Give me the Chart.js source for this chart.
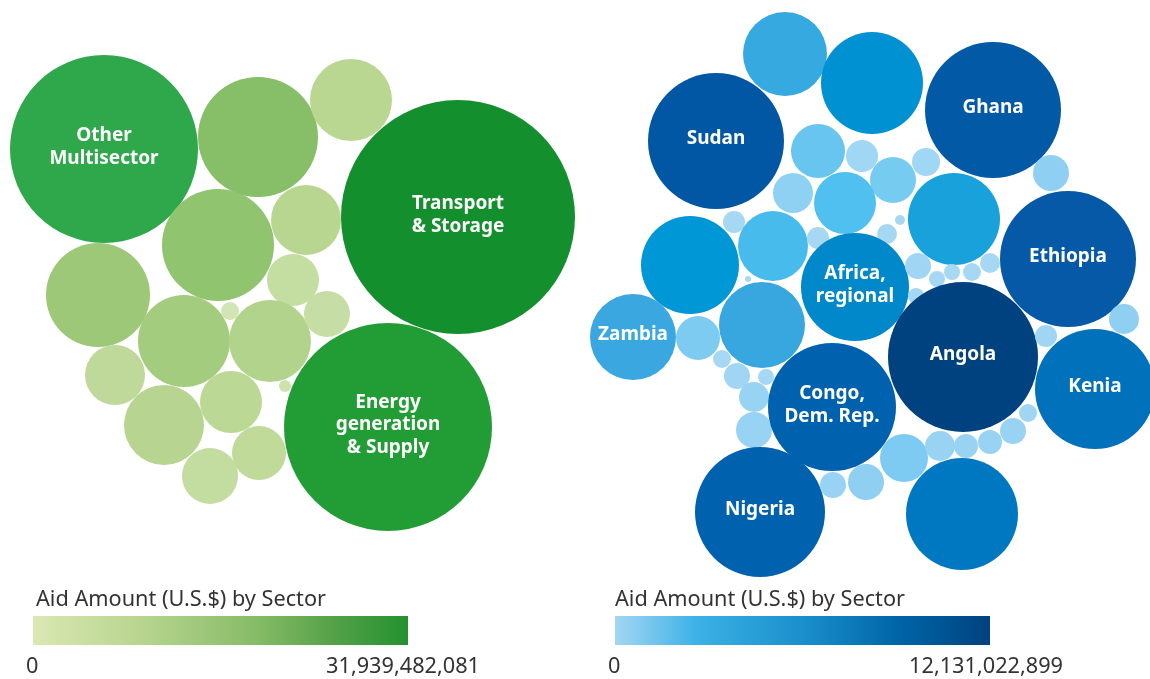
<!DOCTYPE html>
<html>
<head>
<meta charset="utf-8">
<script src="https://cdn.jsdelivr.net/npm/chart.js@4.4.0/dist/chart.umd.min.js"></script>
<style>
  body { margin: 0; background: #fff; font-family: "Noto Sans", sans-serif; }
  #wrap { position: relative; width: 1150px; height: 679px; }
  #chart { position: absolute; left: 0; top: 0; }
  .legend-title { position: absolute; top: 583px; font-size: 21.7px; color: #333; }
  .bar { position: absolute; top: 616px; width: 375px; height: 29px; }
  .tick { position: absolute; top: 650px; font-size: 21.7px; color: #333; }
</style>
</head>
<body>
<div id="wrap">
  <canvas id="chart" width="1150" height="679"></canvas>
  <div class="legend-title" style="left:36px">Aid Amount (U.S.$) by Sector</div>
  <div class="bar" style="left:33px;background:linear-gradient(to right,#dbe8b2,#b6d48e 30%,#86bb66 60%,#55a148 80%,#23912f)"></div>
  <div class="tick" style="left:26px">0</div>
  <div class="tick" style="left:300px;width:180px;text-align:right">31,939,482,081</div>

  <div class="legend-title" style="left:615px">Aid Amount (U.S.$) by Sector</div>
  <div class="bar" style="left:615px;background:linear-gradient(to right,#a5d6f3,#3bb1e6 22%,#1a8fcb 50%,#0066a8 75%,#00427e)"></div>
  <div class="tick" style="left:608px">0</div>
  <div class="tick" style="left:883px;width:180px;text-align:right">12,131,022,899</div>
</div>
<script>
// sectors (left panel) - layout position and bubble radius
const sectorNames = ['Other\nMultisector', '', '', 'Transport\n& Storage', '', '', '', '', '', '', '', '', 'Energy\ngeneration\n& Supply', '', '', '', '', '', ''];
const sectorX = [104, 258, 351, 458, 218, 306, 98, 293, 230, 184, 270, 327, 388, 115, 164, 231, 285, 259, 210];
const sectorY = [149, 137, 100, 217, 245, 220, 295, 280, 311, 341, 341, 314, 427, 375, 425, 402, 386, 453, 476];
const sectorR = [94, 60, 41, 117, 56, 35, 52, 26, 9, 46, 41, 23, 104, 30, 40, 31, 6, 27, 28];
const sectorColors = ['#2ea84b', '#86bf67', '#b9d791', '#148f2e', '#90c46e', '#b9d691', '#9cc878', '#c4dda1', '#d3e5b4',
  '#a4cc7f', '#b2d38c', '#c6dea5', '#229d36', '#bfd99a', '#b7d591', '#bcd895', '#cde2ad', '#bfda99', '#c3dc9f'];

// countries (right panel)
const countryNames = ['', '', 'Ghana', 'Sudan', '', '', '', '', '', '', '', '', '', '', '', '', '', '', 'Africa,\nregional',
  'Ethiopia', '', '', '', '', '', '', '', 'Zambia', '', '', '', '', '', '', '', 'Angola', 'Kenia', '', '',
  'Congo,\nDem. Rep.', 'Nigeria', '', '', '', '', '', '', '', '', ''];
const countryX = [785, 872, 993, 716, 818, 862, 926, 893, 793, 845, 954, 1051, 734, 773, 690, 818, 887, 900, 855,
  1068, 918, 937, 952, 972, 990, 916, 748, 633, 698, 762, 722, 737, 754, 766, 754, 963, 1095, 1124, 1046,
  832, 760, 962, 904, 940, 966, 990, 1013, 1028, 833, 866];
const countryY = [54, 83, 110, 141, 151, 156, 162, 180, 193, 203, 219, 173, 222, 246, 265, 238, 234, 220, 287,
  259, 266, 279, 272, 272, 263, 296, 279, 337, 338, 325, 359, 376, 397, 377, 430, 357, 389, 319, 336,
  407, 512, 514, 458, 446, 446, 442, 431, 413, 485, 482];
const countryR = [42, 51, 68, 68, 27, 16, 14, 23, 20, 31, 46, 18, 11, 35, 49, 11, 10, 5, 54,
  68, 13, 8, 8, 9, 10, 8, 3, 43, 22, 43, 9, 13, 15, 8, 18, 75, 60, 15, 11,
  64, 65, 56, 24, 15, 12, 12, 13, 9, 13, 18];
const countryColors = ['#36aae0', '#0091d3', '#0259a6', '#0257a5', '#67c5ef', '#a0d7f4', '#a0d7f4', '#76cbf1', '#8fd1f3',
  '#4fc0ef', '#19a1dc', '#8fd0f2', '#a6d8f4', '#46bbec', '#0097d6', '#a6d8f4', '#a6d8f4', '#a6d8f4', '#0088cb',
  '#0559a6', '#a0d6f3', '#a6d8f4', '#a6d8f4', '#a6d8f4', '#a6d8f4', '#a6d8f4', '#a6d8f4', '#3aa7e0', '#7ecbf2',
  '#39a7df', '#a6d8f4', '#a0d6f3', '#99d3f3', '#a6d8f4', '#99d3f3', '#00427f', '#0071ba', '#8fd0f2', '#a0d6f3',
  '#0062ae', '#0062ae', '#0078c1', '#7dcbf2', '#99d3f3', '#99d3f3', '#99d3f3', '#99d3f3', '#a0d6f3', '#99d3f3',
  '#8fd0f2'];

function points(xs, ys, rs) {
  return xs.map((x, i) => ({ x: x, y: ys[i], r: rs[i] }));
}

// white names inside the big bubbles
const labelPlugin = {
  id: 'bubbleLabels',
  afterDatasetsDraw(chart) {
    const ctx = chart.ctx;
    const names = [sectorNames, countryNames];
    ctx.save();
    ctx.fillStyle = '#fff';
    ctx.font = 'bold 19px "Noto Sans"';
    ctx.textAlign = 'center';
    ctx.textBaseline = 'middle';
    chart.data.datasets.forEach((ds, d) => {
      chart.getDatasetMeta(d).data.forEach((el, i) => {
        const name = names[d][i];
        if (!name) return;
        const lines = name.split('\n');
        const lh = 22.5;
        lines.forEach((line, k) => {
          ctx.fillText(line, el.x, el.y - 2 + (k - (lines.length - 1) / 2) * lh);
        });
      });
    });
    ctx.restore();
  }
};

new Chart(document.getElementById('chart'), {
  type: 'bubble',
  data: {
    datasets: [
      { label: 'Sector', data: points(sectorX, sectorY, sectorR), backgroundColor: sectorColors, borderWidth: 0 },
      { label: 'Country', data: points(countryX, countryY, countryR), backgroundColor: countryColors, borderWidth: 0 }
    ]
  },
  options: {
    responsive: false,
    animation: false,
    clip: false,
    events: [],
    layout: { padding: 0, autoPadding: false },
    scales: {
      x: { type: 'linear', min: 0, max: 1150, display: false },
      y: { type: 'linear', min: 0, max: 679, reverse: true, display: false }
    },
    plugins: {
      legend: { display: false },
      tooltip: { enabled: false }
    }
  },
  plugins: [labelPlugin]
});
</script>
</body>
</html>
